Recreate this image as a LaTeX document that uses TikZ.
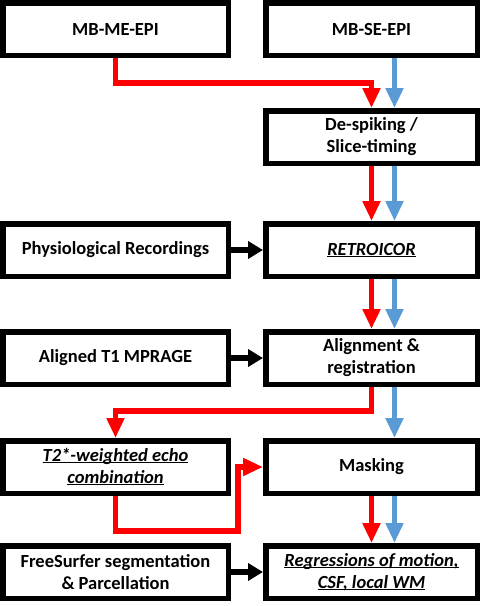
\documentclass[tikz,border=0pt]{standalone}
\usepackage{fontspec}
\setmainfont{Carlito}
\usetikzlibrary{arrows.meta, positioning, calc}
\definecolor{flowred}{RGB}{255,0,0}
\definecolor{flowblue}{RGB}{91,155,213}
\newcommand{\ulit}[1]{\underline{\smash{\textit{#1}}\vphantom{A}}}
\tikzset{
    pipeline/.style={x=1pt, y=1pt, font=\fontsize{18.5}{22}\selectfont\bfseries, node distance=50pt and 32pt},
    block/.style={draw, line width=5.5pt, minimum width=211.5pt, minimum height=52.5pt, inner sep=2pt, align=center},
    wideblock/.style={block, minimum width=225.5pt},
    flow/.style={line width=5.5pt, -{Triangle[length=20pt, width=17pt]}},
    redflow/.style={flow, color=flowred},
    blueflow/.style={flow, color=flowblue},
    % side inputs joining the main column
    sideflow/.style={line width=6pt, -{Triangle[length=15pt, width=17pt]}},
}

\begin{document}
\begin{tikzpicture}[pipeline]
        \useasboundingbox (0,0) rectangle (480,-606);
        \node[wideblock]                       (me)      at (115.5,-29) {MB-ME-EPI};
        \node[block, right=of me]              (se)      {MB-SE-EPI};
        \node[block, below=of se]              (despike) {De-spiking /\\Slice-timing};
        \node[block, below=55pt of despike]    (retro)   {\ulit{RETROICOR}};
        \node[block, below=of retro]           (align)   {Alignment \&\\registration};
        \node[block, below=51pt of align]      (mask)    {Masking};
        \node[block, below=47pt of mask]       (regr)    {\ulit{Regressions of motion,}\\\ulit{CSF, local WM}};
        \node[wideblock, left=of retro]        (physio)  {Physiological Recordings};
        \node[wideblock, left=of align]        (tone)    {Aligned T1 MPRAGE};
        \node[wideblock, left=of mask]         (tstar)   {\ulit{T2*-weighted echo}\\\ulit{combination}};
        \node[wideblock, left=of regr]         (fs)      {FreeSurfer segmentation\\\& Parcellation};
        \coordinate (bend) at ($(tstar.south east)+(7,-35)$);

        % multi-echo path
        \draw[redflow] (me.south) -- ++(0,-25) -| (despike.north);
        \draw[redflow] (despike.south) -- (retro.north);
        \draw[redflow] (retro.south) -- (align.north);
        \draw[redflow] (align.south) -- ++(0,-24) -| (tstar.north);
        \draw[redflow] (tstar.south) |- (bend) |- (mask.west);
        \draw[redflow] (mask.south) -- (regr.north);

        % single-echo path
        \draw[blueflow] ([xshift=23pt]se.south) -- ([xshift=23pt]despike.north);
        \draw[blueflow] ([xshift=23pt]despike.south) -- ([xshift=23pt]retro.north);
        \draw[blueflow] ([xshift=23pt]retro.south) -- ([xshift=23pt]align.north);
        \draw[blueflow] ([xshift=23pt]align.south) -- ([xshift=23pt]mask.north);
        \draw[blueflow] ([xshift=23pt]mask.south) -- ([xshift=23pt]regr.north);

        % side inputs
        \draw[sideflow] (physio) -- (retro);
        \draw[sideflow] (tone) -- (align);
        \draw[sideflow] (fs) -- (regr);
    \end{tikzpicture}
\end{document}
